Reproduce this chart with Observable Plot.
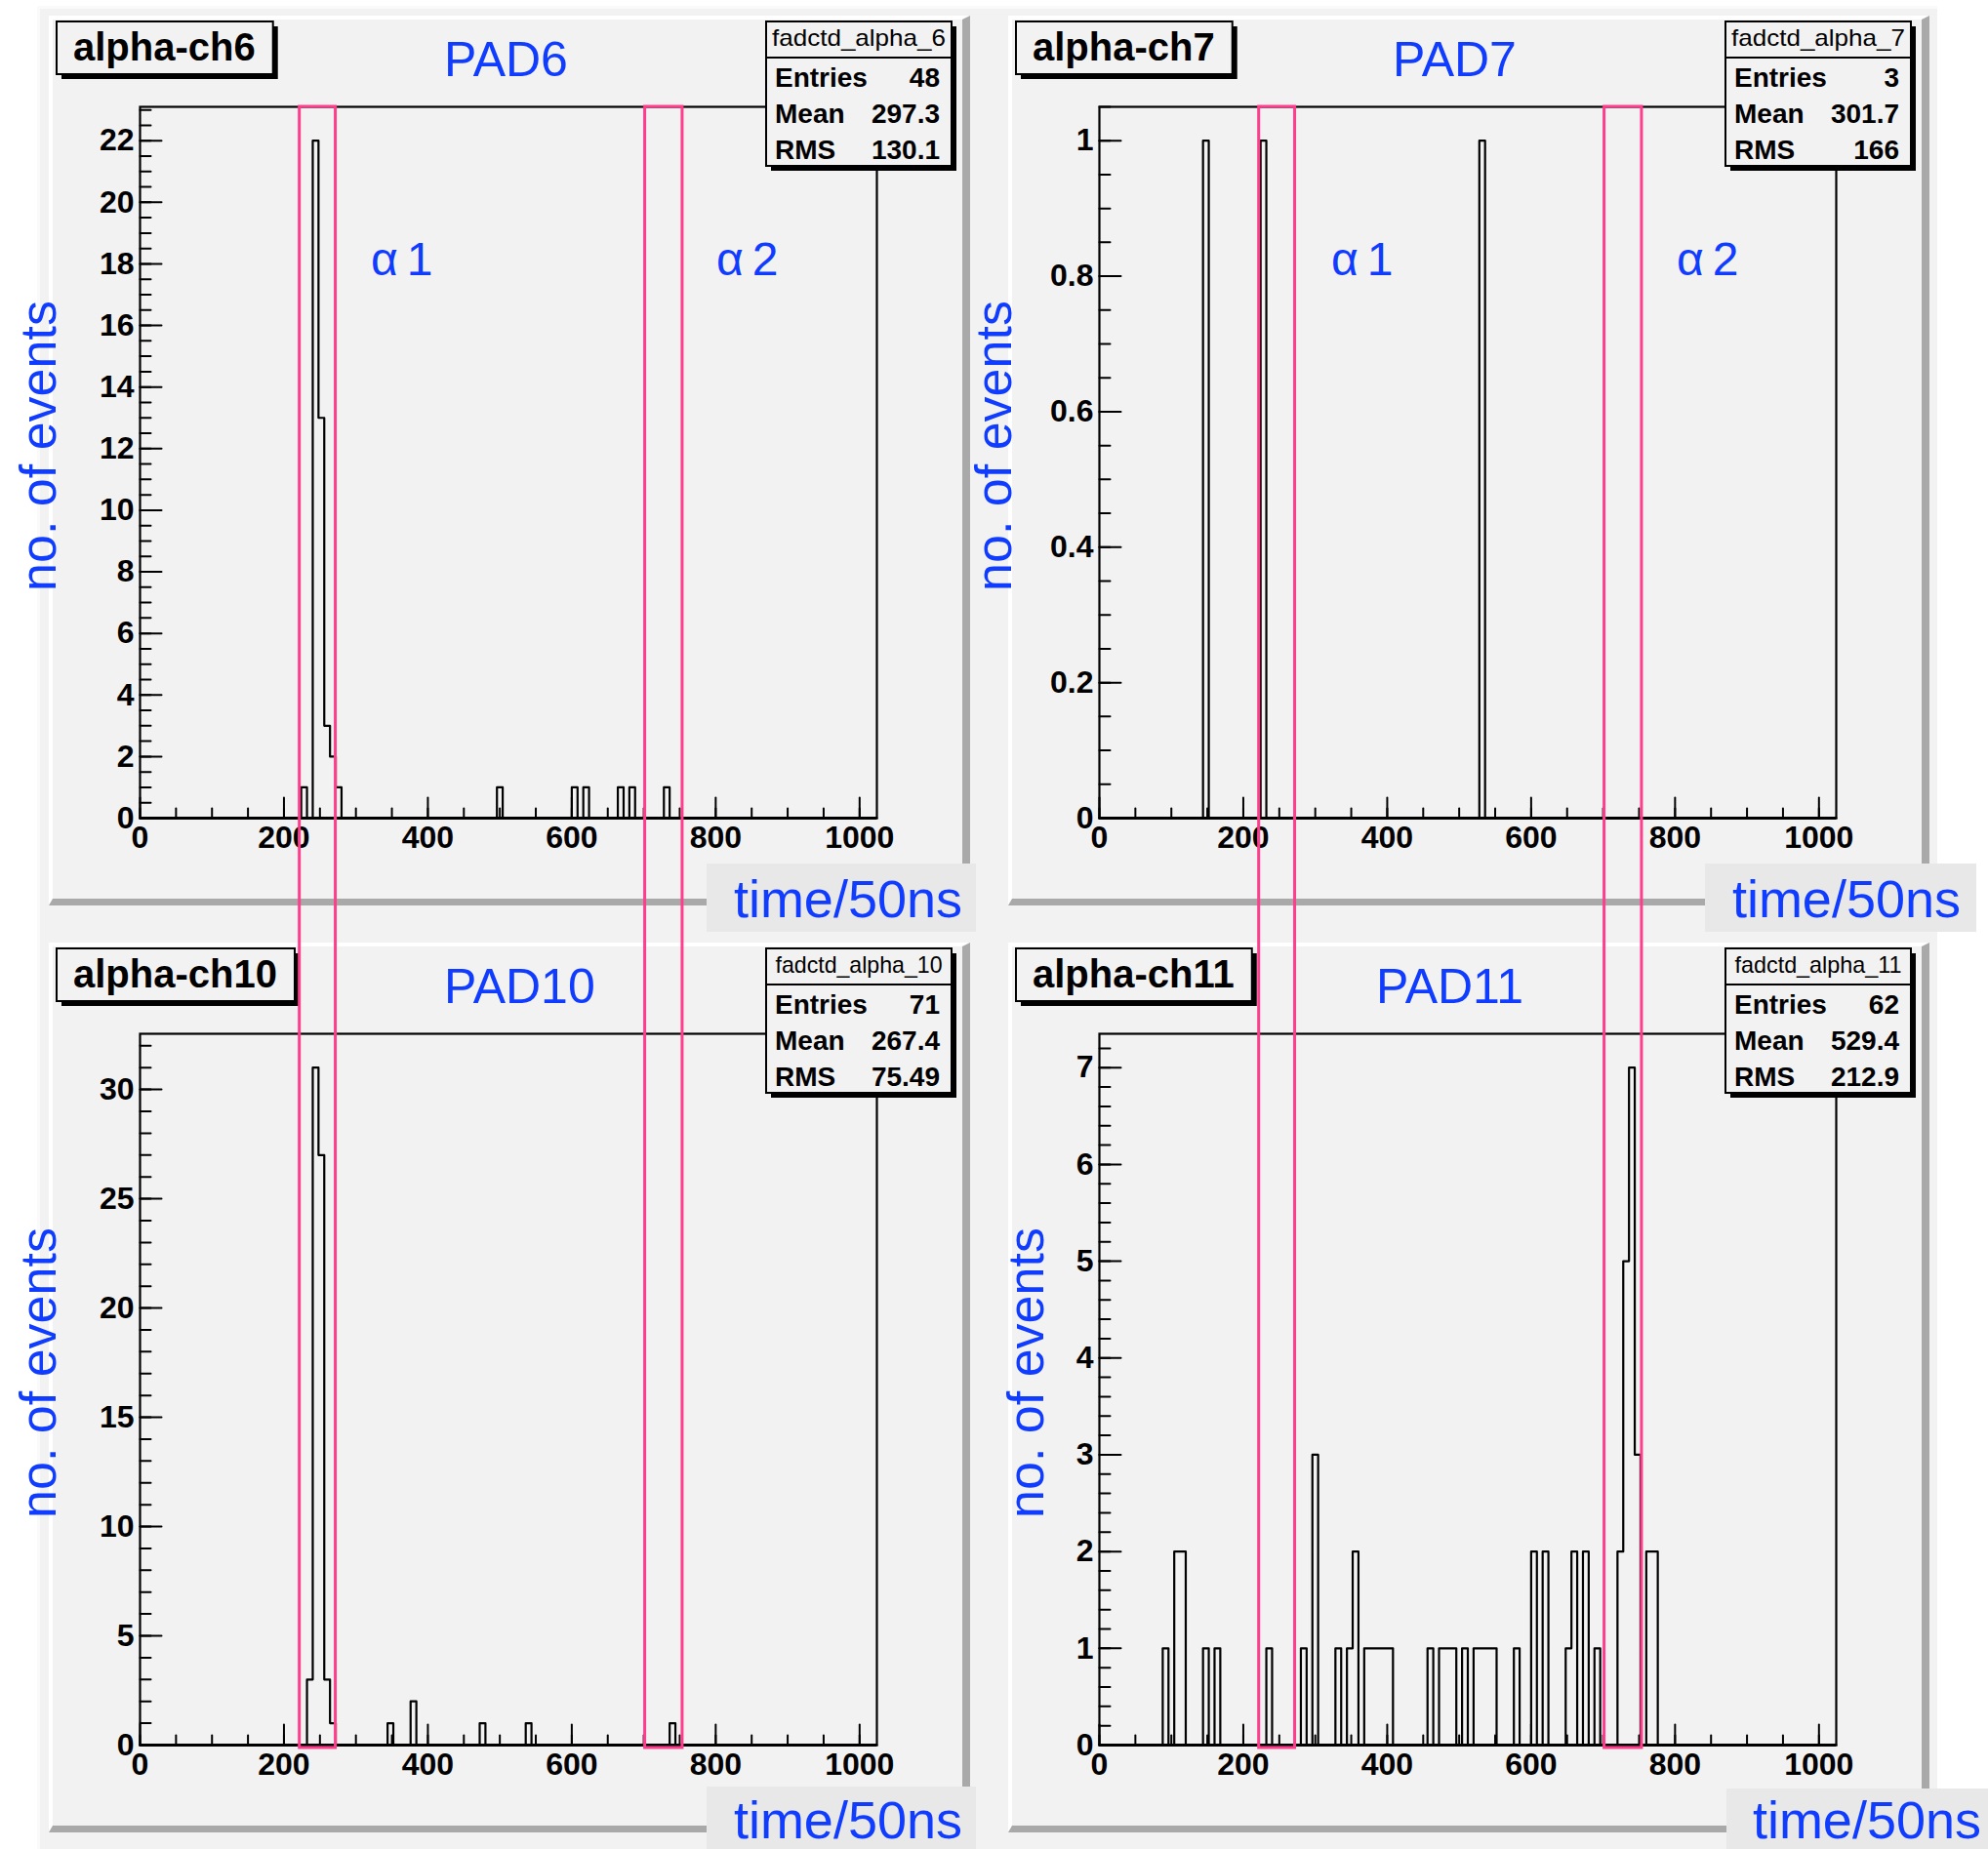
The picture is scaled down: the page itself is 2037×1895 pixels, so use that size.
<!DOCTYPE html>
<html><head><meta charset="utf-8">
<script src="https://cdn.jsdelivr.net/npm/d3@7"></script>
<script src="https://cdn.jsdelivr.net/npm/@observablehq/plot@0.6"></script>
<style>
html,body{margin:0;padding:0;background:#fff;}
#root{position:relative;width:2037px;height:1895px;overflow:hidden;}
</style></head>
<body><div id="root"></div>
<script>
// ---------------- data ----------------
const binWidth = 8;                 // time/50ns per bin
const xDomain = [0, 1024];
const xMajorTicks = [0, 200, 400, 600, 800, 1000];

const titles = ["alpha-ch6", "alpha-ch7", "alpha-ch10", "alpha-ch11"];
const padNames = ["PAD6", "PAD7", "PAD10", "PAD11"];
const histNames = ["fadctd_alpha_6", "fadctd_alpha_7", "fadctd_alpha_10", "fadctd_alpha_11"];
const statEntries = ["48", "3", "71", "62"];
const statMeans = ["297.3", "301.7", "267.4", "529.4"];
const statRMS = ["130.1", "166", "75.49", "212.9"];

// lower bin edges (time/50ns) and counts of the non-empty bins
const ch6Edges = [224, 240, 248, 256, 264, 272, 496, 600, 616, 664, 680, 728];
const ch6Counts = [1, 22, 13, 3, 2, 1, 1, 1, 1, 1, 1, 1];
const ch7Edges = [144, 224, 528];
const ch7Counts = [1, 1, 1];
const ch10Edges = [232, 240, 248, 256, 264, 344, 376, 472, 536, 736];
const ch10Counts = [3, 31, 27, 3, 1, 1, 2, 1, 1, 1];
const ch11Edges = [88, 104, 112, 144, 160, 232, 280, 296, 328, 344, 352, 368, 376, 384, 392, 400,
  456, 472, 480, 488, 504, 520, 528, 536, 544, 576, 600, 616, 648, 656, 672, 688, 720, 728, 736, 744, 760, 768];
const ch11Counts = [1, 2, 2, 1, 1, 1, 1, 3, 1, 1, 2, 1, 1, 1, 1, 1,
  1, 1, 1, 1, 1, 1, 1, 1, 1, 1, 2, 2, 1, 2, 2, 1, 2, 5, 7, 3, 2, 2];

// y axes
const ch6YMax = 23.1,  ch6YTicks = [0, 2, 4, 6, 8, 10, 12, 14, 16, 18, 20, 22], ch6YMinorStep = 0.5;
const ch7YMax = 1.05,  ch7YTicks = [0, 0.2, 0.4, 0.6, 0.8, 1], ch7YMinorStep = 0.05;
const ch10YMax = 32.55, ch10YTicks = [0, 5, 10, 15, 20, 25, 30], ch10YMinorStep = 1;
const ch11YMax = 7.35, ch11YTicks = [0, 1, 2, 3, 4, 5, 6, 7], ch11YMinorStep = 0.2;

// alpha time windows (pink boxes)
const windowFrom = [222, 702];
const windowTo = [272, 754];
const windowLabels = ["α1", "α2"];

// ---------------- layout ----------------
const FONT = '"Liberation Sans", Arial, Helvetica, sans-serif';
const BLUE = "#0f3cff", PINK = "#ff3d8c", PAD_BG = "#f2f2f2";
const offsets = [[0, 0], [983, 0], [0, 950], [983, 950]];
const padLayout = [
  {padX: 455, yTitleX: 57, time: [724, 885, 1000, 955, 986, 940], alpha: [380, 734]},
  {padX: 444, yTitleX: 53, time: [764, 885, 1042, 955, 1026, 940], alpha: [381, 735]},
  {padX: 455, yTitleX: 57, time: [724, 881, 1000, 945, 986, 934], alpha: null},
  {padX: 427, yTitleX: 86, time: [786, 883, 1054, 945, 1047, 934], alpha: null}
];

const panels = [
  {edges: ch6Edges, counts: ch6Counts, ymax: ch6YMax, yTicks: ch6YTicks, yMinor: ch6YMinorStep},
  {edges: ch7Edges, counts: ch7Counts, ymax: ch7YMax, yTicks: ch7YTicks, yMinor: ch7YMinorStep},
  {edges: ch10Edges, counts: ch10Counts, ymax: ch10YMax, yTicks: ch10YTicks, yMinor: ch10YMinorStep},
  {edges: ch11Edges, counts: ch11Counts, ymax: ch11YMax, yTicks: ch11YTicks, yMinor: ch11YMinorStep}
];

const root = document.getElementById("root");
function box(style) {
  const d = document.createElement("div");
  d.style.position = "absolute";
  d.style.boxSizing = "border-box";
  Object.assign(d.style, style);
  root.appendChild(d);
  return d;
}
function place(el, left, top) {
  el.style.position = "absolute";
  el.style.left = left + "px";
  el.style.top = top + "px";
  root.appendChild(el);
}

// canvas background and pads
box({left: "38px", top: "6px", width: "1947px", height: "1889px", background: PAD_BG,
  borderTop: "3px solid #fafafa", borderLeft: "3px solid #fafafa"});
offsets.forEach(([ox, oy]) => box({
  left: (50 + ox) + "px", top: (16 + oy) + "px", width: "944px", height: "912px",
  background: PAD_BG, borderTop: "4px solid #ffffff", borderLeft: "4px solid #ffffff",
  borderRight: "8px solid #a9a9a9", borderBottom: "7px solid #a9a9a9"
}));

const tickRight = {draw(ctx, l) { ctx.moveTo(0, 0); ctx.lineTo(l, 0); }};
const tickUp = {draw(ctx, l) { ctx.moveTo(0, 0); ctx.lineTo(0, -l); }};
const nBins = (xDomain[1] - xDomain[0]) / binWidth;
const xMinorTicks = d3.range(0, 1001, 50);

panels.forEach((p, i) => {
  const [ox, oy] = offsets[i];
  const counts = new Array(nBins).fill(0);
  p.edges.forEach((e, j) => { counts[Math.round(e / binWidth)] = p.counts[j]; });
  const pts = counts.map((c, k) => ({t: k * binWidth, n: c}));
  pts.push({t: xDomain[1], n: 0});
  const yMinorTicks = d3.range(0, Math.round(p.ymax / p.yMinor) + 1).map(k => +(k * p.yMinor).toFixed(3)).filter(v => v <= p.ymax);

  const chart = Plot.plot({
    width: 944, height: 912,
    marginLeft: 93, marginRight: 96, marginTop: 93, marginBottom: 90,
    x: {domain: xDomain},
    y: {domain: [0, p.ymax]},
    style: {background: "transparent", fontFamily: FONT, fontSize: "32px", fontWeight: "bold", color: "black", overflow: "visible", maxWidth: "none"},
    marks: [
      Plot.line(pts, {x: "t", y: "n", curve: "step-after", stroke: "black", strokeWidth: 2.2}),
      Plot.frame({stroke: "black", strokeWidth: 2.2}),
      Plot.ruleY([0], {stroke: "black", strokeWidth: 3}),
      Plot.vector(yMinorTicks, {x: () => 0, y: d => d, length: 11, anchor: "start", shape: tickRight, stroke: "black", strokeWidth: 2}),
      Plot.vector(p.yTicks, {x: () => 0, y: d => d, length: 22, anchor: "start", shape: tickRight, stroke: "black", strokeWidth: 2}),
      Plot.vector(xMinorTicks, {x: d => d, y: () => 0, length: 10, anchor: "start", shape: tickUp, stroke: "black", strokeWidth: 2}),
      Plot.vector(xMajorTicks, {x: d => d, y: () => 0, length: 21, anchor: "start", shape: tickUp, stroke: "black", strokeWidth: 2}),
      Plot.axisX({ticks: xMajorTicks, tickSize: 0, tickPadding: 8, tickFormat: d => String(d), label: null, fontSize: 32, fontWeight: "bold"}),
      Plot.axisY({ticks: p.yTicks, tickSize: 0, tickPadding: 6, tickFormat: d => String(d), label: null, fontSize: 32, fontWeight: "bold"})
    ]
  });
  place(chart, 50 + ox, 16 + oy);
});

// ---------------- annotations (title, stats, labels) ----------------
const svg = d3.select(root).append("svg")
  .attr("width", 2037).attr("height", 1895)
  .style("position", "absolute").style("left", "0px").style("top", "0px")
  .style("font-family", FONT).style("overflow", "visible");

panels.forEach((p, i) => {
  const [ox, oy] = offsets[i];
  const L = padLayout[i];
  const g = svg.append("g").attr("transform", `translate(${ox},${oy})`);

  // title box
  const tg = g.append("g");
  const shadow = tg.append("rect").attr("fill", "black");
  const frame = tg.append("rect").attr("fill", PAD_BG).attr("stroke", "black").attr("stroke-width", 2);
  const tt = tg.append("text").text(titles[i]).attr("x", 75).attr("y", 62)
    .attr("font-size", 40).attr("font-weight", "bold").attr("fill", "black");
  const tw = tt.node().getComputedTextLength();
  const bw = tw + 35;
  frame.attr("x", 58).attr("y", 22).attr("width", bw).attr("height", 54);
  shadow.attr("x", 63).attr("y", 27).attr("width", bw).attr("height", 54);

  // stats box
  const sg = g.append("g");
  sg.append("rect").attr("x", 790).attr("y", 27).attr("width", 190).attr("height", 148).attr("fill", "black");
  sg.append("rect").attr("x", 785).attr("y", 22).attr("width", 190).attr("height", 148)
    .attr("fill", PAD_BG).attr("stroke", "black").attr("stroke-width", 2);
  sg.append("line").attr("x1", 785).attr("x2", 975).attr("y1", 59).attr("y2", 59).attr("stroke", "black").attr("stroke-width", 2);
  sg.append("text").text(histNames[i]).attr("x", 880).attr("y", 47).attr("text-anchor", "middle")
    .attr("font-size", 24).attr("textLength", histNames[i].length > 14 ? 171 : 178).attr("lengthAdjust", "spacingAndGlyphs");
  const rows = [["Entries", statEntries[i]], ["Mean", statMeans[i]], ["RMS", statRMS[i]]];
  rows.forEach(([k, v], r) => {
    const y = 89 + r * 37;
    sg.append("text").text(k).attr("x", 794).attr("y", y).attr("font-size", 28).attr("font-weight", "bold");
    sg.append("text").text(v).attr("x", 963).attr("y", y).attr("font-size", 28).attr("font-weight", "bold").attr("text-anchor", "end");
  });

  // PAD label
  g.append("text").text(padNames[i]).attr("x", L.padX).attr("y", 78).attr("font-size", 50).attr("fill", BLUE);

  // y axis title
  g.append("text").text("no. of events")
    .attr("transform", `translate(${L.yTitleX},${457}) rotate(-90)`)
    .attr("text-anchor", "middle").attr("font-size", 52).attr("fill", BLUE);

  // alpha labels
  if (L.alpha) {
    windowLabels.forEach((lab, j) => {
      g.append("text").text(lab).attr("x", L.alpha[j]).attr("y", 282)
        .attr("font-size", 48).attr("letter-spacing", "9px").attr("fill", BLUE);
    });
  }

  // time/50ns box
  const [x0, y0, x1, y1, tx, ty] = L.time;
  g.append("rect").attr("x", x0).attr("y", y0).attr("width", x1 - x0).attr("height", y1 - y0).attr("fill", "#e8e8e8");
  g.append("text").text("time/50ns").attr("x", tx).attr("y", ty).attr("text-anchor", "end")
    .attr("font-size", 54).attr("fill", BLUE);
});

// ---------------- pink alpha windows, spanning both rows of each column ----------------
const windows = windowFrom.map((f, j) => ({from: f, to: windowTo[j]}));
[0, 983].forEach(ox => {
  const ov = Plot.plot({
    width: 944, height: 1690,
    marginLeft: 93, marginRight: 96, marginTop: 4, marginBottom: 4,
    x: {domain: xDomain, axis: null},
    style: {background: "transparent", overflow: "visible", maxWidth: "none"},
    marks: [Plot.rect(windows, {x1: "from", x2: "to", stroke: PINK, strokeWidth: 3, fill: "none"})]
  });
  place(ov, 50 + ox, 105);
});
</script>
</body></html>
